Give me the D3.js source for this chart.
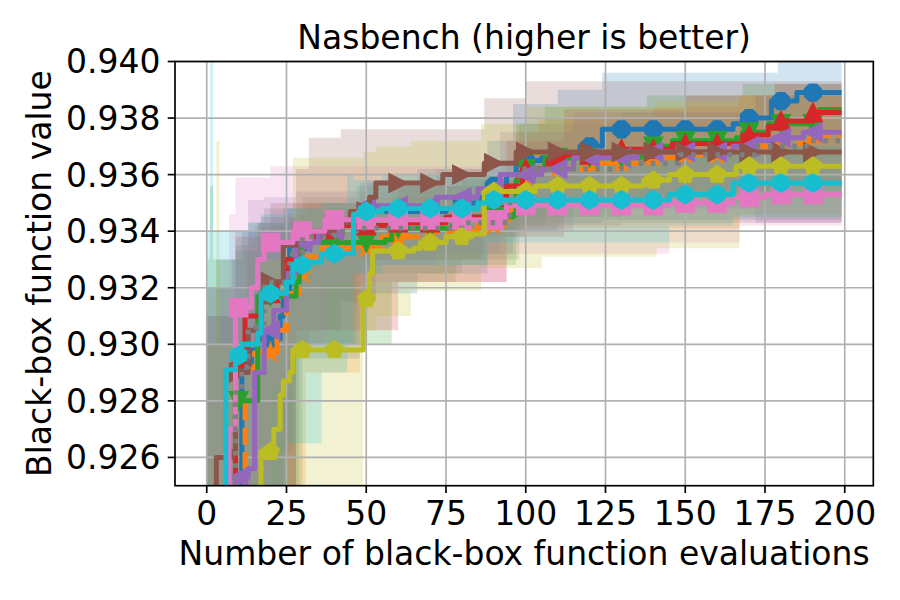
<!DOCTYPE html>
<html>
<head>
<meta charset="utf-8">
<script src="https://cdn.jsdelivr.net/npm/d3@7"></script>
<style>
  html, body { margin: 0; padding: 0; background: #fff; }
  svg { display: block; font-family: "DejaVu Sans", sans-serif; }
</style>
</head>
<body>
<div id="chart"></div>
<script>
// ── Data: best-so-far mean, step breakpoints [evaluation, value] ───────────────

const meanBlue = [[0,0.9180],[11,0.9293],[14,0.9298],[16,0.9302],[23,0.9310],[24,0.9318],[26,0.9336],[46,0.9340],[48,0.9347],[75,0.9348],[78,0.9350],[86,0.9352],[88,0.9356],[94,0.9360],[97,0.9365],[105,0.9366],[115,0.9367],[117,0.9370],[124,0.9376],[165,0.9378],[168,0.9380],[177,0.9386],[185,0.9389]];
const meanOrange = [[0,0.9140],[12,0.9280],[15,0.9297],[22,0.9305],[25,0.9318],[29,0.9325],[31,0.9331],[36,0.9334],[55,0.9338],[70,0.9340],[85,0.9342],[95,0.9348],[97,0.9358],[104,0.9362],[120,0.9364],[138,0.9366],[150,0.9367],[165,0.9370],[176,0.9371],[189,0.9374]];
const meanGreen = [[0,0.9150],[9,0.9280],[16,0.9317],[28,0.9322],[29,0.9336],[56,0.9337],[58,0.9341],[77,0.9342],[78,0.9345],[96,0.9346],[97,0.9358],[99,0.9362],[106,0.9366],[136,0.9367],[138,0.9370],[146,0.9372],[166,0.9373],[168,0.9375],[176,0.9378],[192,0.9383]];
const meanRed = [[0,0.9160],[9,0.9295],[12,0.9310],[17,0.9318],[22,0.9322],[25,0.9330],[28,0.9338],[40,0.9342],[60,0.9343],[75,0.9345],[90,0.9352],[94,0.9356],[99,0.9362],[107,0.9365],[112,0.9367],[128,0.9369],[146,0.9371],[168,0.9374],[176,0.9377],[179,0.9379],[190,0.9382]];
const meanPurple = [[0,0.9120],[9,0.9253],[13,0.9256],[15,0.9290],[18,0.9305],[21,0.9312],[25,0.9325],[28,0.9336],[35,0.9340],[42,0.9344],[50,0.9349],[72,0.9352],[85,0.9355],[92,0.9360],[105,0.9362],[115,0.9366],[135,0.9368],[165,0.9370],[172,0.9372],[178,0.9373],[187,0.9375]];
const meanBrown = [[0,0.9180],[3,0.9260],[8,0.9262],[9,0.9290],[13,0.9305],[17,0.9315],[20,0.9322],[24,0.9335],[28,0.9340],[40,0.9343],[45,0.9347],[51,0.9352],[53,0.9357],[74,0.9360],[87,0.9364],[97,0.9368]];
const meanPink = [[0,0.9170],[7,0.9270],[9,0.9313],[14,0.9320],[16,0.9330],[18,0.9336],[27,0.9340],[37,0.9344],[92,0.9345],[94,0.9349],[145,0.9350],[165,0.9352],[175,0.9353]];
const meanGray = [[0,0.9150],[9,0.9283],[11,0.9292],[13,0.9306],[18,0.9322],[26,0.9332],[30,0.9338],[40,0.9340],[47,0.9341],[80,0.9343],[95,0.9350],[98,0.9362],[130,0.9364],[148,0.9367],[172,0.9370],[188,0.9372]];
const meanOlive = [[0,0.9100],[17,0.9262],[21,0.9270],[23,0.9282],[24,0.9287],[26,0.9290],[27,0.9298],[48,0.9298],[49,0.9316],[51,0.9325],[52,0.9333],[65,0.9334],[67,0.9336],[75,0.9338],[83,0.9339],[87,0.9354],[103,0.9356],[137,0.9358],[145,0.9360],[166,0.9363]];
const meanCyan = [[0,0.9150],[6,0.9291],[9,0.9296],[11,0.9300],[16,0.9304],[17,0.9318],[25,0.9322],[27,0.9328],[31,0.9329],[36,0.9332],[46,0.9346],[50,0.9347],[55,0.9348],[85,0.9350],[88,0.9351],[115,0.9351],[145,0.9353],[165,0.9357]];

// ── Data: spread bands, step breakpoints [evaluation, lower, upper] ───────────

const bandBlue = [[0,0.900,0.9320],[8,0.905,0.9330],[11,0.915,0.9340],[16,0.9230,0.9343],[24,0.9262,0.9348],[27,0.9295,0.9350],[48,0.9318,0.9357],[66,0.9325,0.9362],[88,0.9332,0.9372],[96,0.9340,0.9385],[110,0.9343,0.9390],[124,0.9344,0.9396],[179,0.9344,0.9400]];
const bandOrange = [[0,0.900,0.9310],[12,0.912,0.9335],[15,0.918,0.9342],[25,0.9240,0.9346],[31,0.9290,0.9350],[48,0.9330,0.9352],[86,0.9340,0.9358],[97,0.9341,0.9375],[104,0.9341,0.9380],[140,0.9341,0.9384],[167,0.9346,0.9388]];
const bandGreen = [[0,0.900,0.9330],[1,0.900,0.9356],[2,0.900,0.9330],[9,0.912,0.9333],[16,0.9230,0.9343],[29,0.9300,0.9348],[58,0.9322,0.9356],[78,0.9328,0.9360],[97,0.9342,0.9378],[106,0.9350,0.9384],[138,0.9352,0.9388],[168,0.9354,0.9392]];
const bandRed = [[0,0.900,0.9320],[9,0.912,0.9338],[17,0.9225,0.9345],[28,0.9305,0.9350],[60,0.9322,0.9356],[94,0.9338,0.9372],[112,0.9352,0.9383],[150,0.9354,0.9388],[178,0.9356,0.9392]];
const bandPurple = [[0,0.900,0.9310],[13,0.912,0.9351],[18,0.9220,0.9352],[28,0.9300,0.9354],[50,0.9328,0.9358],[72,0.9332,0.9362],[92,0.9340,0.9375],[115,0.9348,0.9382],[172,0.9343,0.9388]];
const bandBrown = [[0,0.900,0.9300],[3,0.912,0.9330],[9,0.918,0.9340],[20,0.9235,0.9350],[28,0.9300,0.9362],[32,0.9305,0.9373],[42,0.9315,0.9376],[53,0.9330,0.9376],[87,0.9338,0.9387],[100,0.9342,0.9393],[130,0.9343,0.9393]];
const bandPink = [[0,0.900,0.9300],[7,0.915,0.9346],[9,0.9230,0.9359],[20,0.9285,0.9363],[28,0.9300,0.9363],[37,0.9322,0.9363],[94,0.9332,0.9362],[145,0.9336,0.9364],[167,0.9342,0.9366]];
const bandGray = [[0,0.900,0.9310],[9,0.912,0.9335],[13,0.919,0.9343],[18,0.9250,0.9348],[30,0.9300,0.9352],[47,0.9325,0.9356],[80,0.9330,0.9358],[98,0.9345,0.9378],[130,0.9350,0.9382],[172,0.9352,0.9388]];
const bandOlive = [[0,0.900,0.9300],[3,0.900,0.9372],[4,0.900,0.9300],[17,0.900,0.9330],[27,0.900,0.9366],[49,0.9305,0.9368],[53,0.9310,0.9370],[64,0.9319,0.9372],[86,0.9327,0.9378],[100,0.9327,0.9384],[105,0.9331,0.9384],[141,0.9334,0.9386],[167,0.9345,0.9388]];
const bandCyan = [[0,0.900,0.9340],[1,0.900,0.9400],[2,0.900,0.9340],[6,0.905,0.9340],[13,0.915,0.9343],[17,0.9240,0.9346],[25,0.9265,0.9348],[36,0.9290,0.9350],[44,0.9300,0.9360],[46,0.9325,0.9358],[55,0.9328,0.9360],[88,0.9336,0.9365],[145,0.9342,0.9368],[165,0.9345,0.9370]];

const xTicks = [0, 25, 50, 75, 100, 125, 150, 175, 200];
const yTicks = [0.926, 0.928, 0.930, 0.932, 0.934, 0.936, 0.938, 0.940];
const lastEval = 199;
const markerEvals = d3.range(0, 200, 10);

const titleText = "Nasbench (higher is better)";
const xLabelText = "Number of black-box function evaluations";
const yLabelText = "Black-box function value";

// ── Series styles (drawing order = matplotlib C0..C9) ─────────────────────────

const series = [
  { mean: meanBlue,   band: bandBlue,   color: "#1f77b4", marker: "octagon",  dash: null },
  { mean: meanOrange, band: bandOrange, color: "#ff7f0e", marker: "star",     dash: "17,7.4" },
  { mean: meanGreen,  band: bandGreen,  color: "#2ca02c", marker: "triDown",  dash: null },
  { mean: meanRed,    band: bandRed,    color: "#d62728", marker: "triUp",    dash: null },
  { mean: meanPurple, band: bandPurple, color: "#9467bd", marker: "triLeft",  dash: null },
  { mean: meanBrown,  band: bandBrown,  color: "#8c564b", marker: "triRight", dash: null },
  { mean: meanPink,   band: bandPink,   color: "#e377c2", marker: "square",   dash: null },
  { mean: meanGray,   band: bandGray,   color: "#7f7f7f", marker: null,       dash: "4.6,7.6" },
  { mean: meanOlive,  band: bandOlive,  color: "#bcbd22", marker: "pentagon", dash: null },
  { mean: meanCyan,   band: bandCyan,   color: "#17becf", marker: "hexagon",  dash: null },
];

// ── Layout ────────────────────────────────────────────────────────────────────

const width = 900, height = 600;
const plot = { left: 175, top: 61.5, right: 873.3, bottom: 485.7 };
const fontSize = 33;

const x = d3.scaleLinear().domain([-9.95, 208.95]).range([plot.left, plot.right]);
const y = d3.scaleLinear().domain([0.925, 0.940]).range([plot.bottom, plot.top]);

const svg = d3.select("#chart").append("svg")
  .attr("width", width).attr("height", height)
  .attr("viewBox", [0, 0, width, height]);

svg.append("defs").append("clipPath").attr("id", "plot-clip")
  .append("rect")
  .attr("x", plot.left).attr("y", plot.top)
  .attr("width", plot.right - plot.left).attr("height", plot.bottom - plot.top);

const bandLayer = svg.append("g").attr("clip-path", "url(#plot-clip)");
const gridLayer = svg.append("g");
const lineLayer = svg.append("g").attr("clip-path", "url(#plot-clip)");

function valueAt(steps, ev) {
  let v = steps[0][1];
  for (const s of steps) {
    if (s[0] <= ev) v = s[1];
  }
  return v;
}

function polygon(n, r, rot) {
  const pts = d3.range(n).map((i) => {
    const a = rot + (i * 2 * Math.PI) / n;
    return [r * Math.sin(a), -r * Math.cos(a)];
  });
  return "M" + pts.map((p) => p.join(",")).join("L") + "Z";
}

function markerPath(kind, r) {
  switch (kind) {
    case "octagon": return polygon(8, r, Math.PI / 8);
    case "pentagon": return polygon(5, r, 0);
    case "hexagon": return polygon(6, r, 0);
    case "square": return `M${-r},${-r}L${r},${-r}L${r},${r}L${-r},${r}Z`;
    case "triDown": return `M0,${r}L${-r},${-r}L${r},${-r}Z`;
    case "triUp": return `M0,${-r}L${-r},${r}L${r},${r}Z`;
    case "triLeft": return `M${-r},0L${r},${-r}L${r},${r}Z`;
    case "triRight": return `M${r},0L${-r},${-r}L${-r},${r}Z`;
    case "star": {
      const pts = d3.range(10).map((i) => {
        const rr = i % 2 === 0 ? r : r * 0.381966;
        const a = (i * Math.PI) / 5;
        return [rr * Math.sin(a), -rr * Math.cos(a)];
      });
      return "M" + pts.map((p) => p.join(",")).join("L") + "Z";
    }
  }
  return "";
}

// ── Bands ─────────────────────────────────────────────────────────────────────

const area = d3.area()
  .x((d) => x(d[0])).y0((d) => y(d[1])).y1((d) => y(d[2]))
  .curve(d3.curveStepAfter);

for (const s of series) {
  const last = s.band[s.band.length - 1];
  bandLayer.append("path")
    .datum([...s.band, [lastEval, last[1], last[2]]])
    .attr("d", area)
    .attr("fill", s.color).attr("fill-opacity", 0.2)
    .attr("stroke", "none");
}

// ── Grid ──────────────────────────────────────────────────────────────────────

for (const t of xTicks) {
  gridLayer.append("line")
    .attr("x1", x(t)).attr("x2", x(t))
    .attr("y1", plot.top).attr("y2", plot.bottom)
    .attr("stroke", "#b0b0b0").attr("stroke-width", 1.67);
}
for (const t of yTicks) {
  gridLayer.append("line")
    .attr("x1", plot.left).attr("x2", plot.right)
    .attr("y1", y(t)).attr("y2", y(t))
    .attr("stroke", "#b0b0b0").attr("stroke-width", 1.67);
}

// ── Lines + markers ───────────────────────────────────────────────────────────

const line = d3.line()
  .x((d) => x(d[0])).y((d) => y(d[1]))
  .curve(d3.curveStepAfter);

const markerR = 8.8;

for (const s of series) {
  const last = s.mean[s.mean.length - 1];
  lineLayer.append("path")
    .datum([...s.mean, [lastEval, last[1]]])
    .attr("d", line)
    .attr("fill", "none")
    .attr("stroke", s.color).attr("stroke-width", 5)
    .attr("stroke-linejoin", "round")
    .attr("stroke-dasharray", s.dash);

  if (s.marker) {
    const d = markerPath(s.marker, markerR);
    for (const ev of markerEvals) {
      lineLayer.append("path")
        .attr("d", d)
        .attr("transform", `translate(${x(ev)},${y(valueAt(s.mean, ev))})`)
        .attr("fill", s.color)
        .attr("stroke", s.color).attr("stroke-width", 2.08)
        .attr("stroke-linejoin", "miter");
    }
  }
}

// ── Axes ──────────────────────────────────────────────────────────────────────

svg.append("rect")
  .attr("x", plot.left).attr("y", plot.top)
  .attr("width", plot.right - plot.left).attr("height", plot.bottom - plot.top)
  .attr("fill", "none").attr("stroke", "#000").attr("stroke-width", 1.67);

for (const t of xTicks) {
  svg.append("line")
    .attr("x1", x(t)).attr("x2", x(t))
    .attr("y1", plot.bottom).attr("y2", plot.bottom + 7.3)
    .attr("stroke", "#000").attr("stroke-width", 1.67);
  svg.append("text")
    .attr("x", x(t)).attr("y", 525)
    .attr("text-anchor", "middle")
    .attr("font-size", fontSize).attr("fill", "#000")
    .text(t);
}

for (const t of yTicks) {
  svg.append("line")
    .attr("x1", plot.left - 7.3).attr("x2", plot.left)
    .attr("y1", y(t)).attr("y2", y(t))
    .attr("stroke", "#000").attr("stroke-width", 1.67);
  svg.append("text")
    .attr("x", plot.left - 14.6).attr("y", y(t))
    .attr("dy", "0.36em")
    .attr("text-anchor", "end")
    .attr("font-size", fontSize).attr("fill", "#000")
    .text(d3.format(".3f")(t));
}

svg.append("text")
  .attr("x", (plot.left + plot.right) / 2).attr("y", 565)
  .attr("text-anchor", "middle")
  .attr("font-size", fontSize).attr("fill", "#000")
  .text(xLabelText);

svg.append("text")
  .attr("transform", `translate(51,${(plot.top + plot.bottom) / 2}) rotate(-90)`)
  .attr("text-anchor", "middle")
  .attr("font-size", fontSize).attr("fill", "#000")
  .text(yLabelText);

svg.append("text")
  .attr("x", (plot.left + plot.right) / 2).attr("y", 49)
  .attr("text-anchor", "middle")
  .attr("font-size", fontSize).attr("fill", "#000")
  .text(titleText);
</script>
</body>
</html>
